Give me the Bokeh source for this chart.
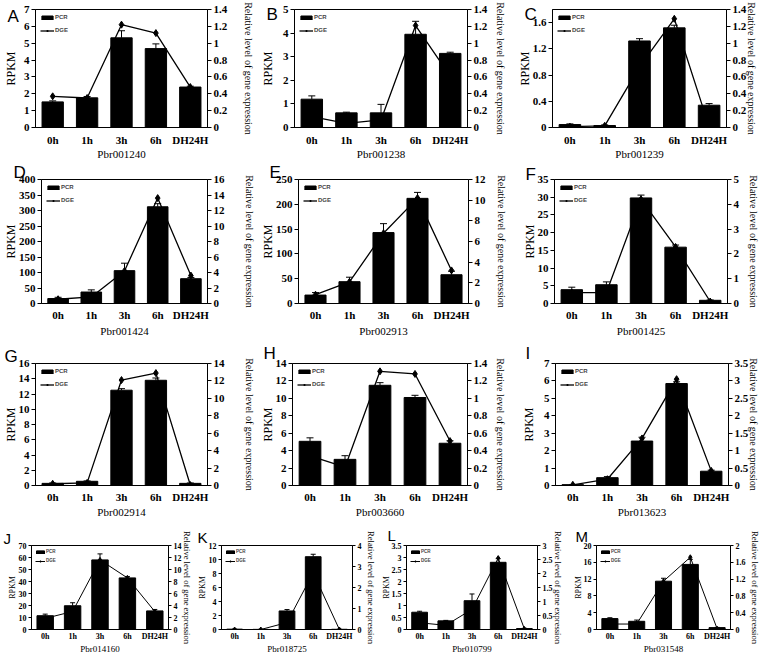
import math
from bokeh.plotting import figure
from bokeh.models import (FactorRange, Range1d, LinearAxis, FixedTicker, CustomJSTickFormatter,
                          ColumnDataSource, Whisker, TeeHead, Legend, LegendItem)
from bokeh.layouts import row, column
from bokeh.embed import file_html
from bokeh.resources import INLINE

# ---------------- data ----------------
times = ["0h", "1h", "3h", "6h", "DH24H"]

a_pcr = [1.52, 1.76, 5.32, 4.68, 2.40]
a_err = [0.06, 0.08, 0.42, 0.28, 0.05]
a_dge = [0.37, 0.35, 1.22, 1.12, 0.48]

b_pcr = [1.20, 0.62, 0.62, 3.95, 3.14]
b_err = [0.14, 0.03, 0.36, 0.55, 0.05]
b_dge = [0.13, 0.05, 0.09, 1.21, 0.61]

c_pcr = [0.045, 0.03, 1.32, 1.52, 0.34]
c_err = [0.01, 0.01, 0.035, 0.04, 0.025]
c_dge = [0.01, 0.02, 0.72, 1.29, 0.01]

d_pcr = [16, 37, 106, 312, 80]
d_err = [4, 7, 24, 10, 4]
d_dge = [0.55, 0.85, 4.2, 13.6, 3.6]

e_pcr = [17, 44, 143, 212, 58]
e_err = [5, 9, 18, 12, 7]
e_dge = [0.85, 2.1, 6.8, 10.2, 3.2]

f_pcr = [3.9, 5.3, 29.8, 15.9, 0.9]
f_err = [0.7, 0.8, 0.8, 0.6, 0.1]
f_dge = [0.44, 0.44, 4.2, 2.28, 0.08]

g_pcr = [0.28, 0.55, 12.5, 13.8, 0.28]
g_err = [0.05, 0.05, 0.2, 0.3, 0.05]
g_dge = [0.2, 0.3, 12.1, 12.9, 0.05]

h_pcr = [5.07, 3.0, 11.5, 10.1, 4.85]
h_err = [0.4, 0.42, 0.3, 0.25, 0.28]
h_dge = [0.34, 0.21, 1.31, 1.28, 0.51]

i_pcr = [0.05, 0.45, 2.55, 5.85, 0.82]
i_err = [0.01, 0.06, 0.22, 0.1, 0.06]
i_dge = [0.02, 0.18, 1.35, 3.05, 0.42]

j_pcr = [11.5, 19.8, 58, 43, 15.5]
j_err = [1.3, 2.5, 5, 1.2, 1.2]
j_dge = [1.85, 3.0, 11.6, 8.6, 3.0]

k_pcr = [0.05, 0.02, 2.65, 10.4, 0.03]
k_err = [0.02, 0.01, 0.2, 0.35, 0.01]
k_dge = [0.0, 0.0, 0.33, 2.7, 0.0]

l_pcr = [0.72, 0.36, 1.2, 2.8, 0.04]
l_err = [0.04, 0.02, 0.28, 0.15, 0.01]
l_dge = [0.24, 0.15, 0.72, 2.55, 0.02]

m_pcr = [2.6, 1.95, 11.5, 15.5, 0.45]
m_err = [0.2, 0.3, 0.7, 1.2, 0.05]
m_dge = [0.13, 0.13, 1.15, 1.72, 0.02]

genes = ["Pbr001240", "Pbr001238", "Pbr001239", "Pbr001424", "Pbr002913", "Pbr001425",
         "Pbr002914", "Pbr003660", "Pbr013623", "Pbr014160", "Pbr018725", "Pbr010799", "Pbr031548"]
letters = ["A", "B", "C", "D", "E", "F", "G", "H", "I", "J", "K", "L", "M"]
# left (RPKM) axis max/step and right (relative level) axis max/step
left_max = [7, 5, 1.8, 400, 250, 35, 16, 14, 7, 70, 12, 3.5, 20]
left_step = [1, 1, 0.4, 50, 50, 5, 2, 2, 1, 10, 2, 0.5, 4]
right_max = [1.4, 1.4, 1.4, 16, 12, 5, 14, 1.4, 3.5, 14, 4, 3, 2]
right_step = [0.2, 0.2, 0.2, 2, 2, 1, 2, 0.2, 0.5, 2, 1, 0.5, 0.4]
pcr_all = [a_pcr, b_pcr, c_pcr, d_pcr, e_pcr, f_pcr, g_pcr, h_pcr, i_pcr, j_pcr, k_pcr, l_pcr, m_pcr]
err_all = [a_err, b_err, c_err, d_err, e_err, f_err, g_err, h_err, i_err, j_err, k_err, l_err, m_err]
dge_all = [a_dge, b_dge, c_dge, d_dge, e_dge, f_dge, g_dge, h_dge, i_dge, j_dge, k_dge, l_dge, m_dge]

# ---------------- layout (reference pixel coordinates, scaled to fit the page) ----------------
SX = 762 / 778
SY = 656 / 672
def sx(v): return int(round(v * SX))
def sy(v): return int(round(v * SY))

XB = [0, 262, 520, 778]
YB = [0, 166, 348, 535, 672]
X4 = [0, 198, 386, 578, 778]
frames = [(32, 7, 212, 133), (296, 7, 479, 137), (564, 9, 741, 137),
          (32, 182, 212, 310), (297, 182, 480, 312), (566, 182, 742, 314),
          (35, 368, 212, 497), (297, 370, 479, 502), (567, 370, 743, 502),
          (32, 551, 174, 646), (223, 551, 360, 647), (412, 552, 548, 647), (609, 551, 752, 647)]
letter_pos = [(3, 7), (267, 5), (535, 7), (3, 168), (267, 168), (536, 170), (3, 353), (267, 352),
              (536, 352), (3, 538), (198, 537), (393, 536), (587, 536)]
rpkm_x = [5, 268, 538, 3, 267, 538, 13, 270, 538, 12, 203, 393, 593]
rtitle_x = [247, 505, 760, 247, 505, 762, 247, 505, 762, 185, 372, 562, 770]
# x tick-label standoff and gene-name standoff per row
xt_std = [6, 5, 5, 2]
xg_std = [-1, 1, 0, 0]

SERIF = "Liberation Serif"
SANS = "Liberation Sans"
fmt = CustomJSTickFormatter(code="return String(Math.round(tick*1000)/1000);")


def make_ticks(mx, step):
    n = int(math.floor(mx / step + 1e-9))
    return [round(i * step, 6) for i in range(n + 1)]


def lab_w(s, fs):
    return sum(0.25 * fs if c == "." else 0.5 * fs for c in s)


def style_axis(ax, tick_fs, lab_fs, tick_out, std):
    ax.major_label_text_font = SERIF
    ax.major_label_text_font_style = "bold"
    ax.major_label_text_font_size = f"{tick_fs}px"
    ax.major_label_text_color = "black"
    ax.axis_label_text_font = SERIF
    ax.axis_label_text_font_style = "normal"
    ax.axis_label_text_font_size = f"{lab_fs}px"
    ax.axis_label_text_color = "black"
    ax.major_tick_out = tick_out
    ax.major_tick_in = 0
    ax.minor_tick_out = 0
    ax.minor_tick_in = 0
    ax.minor_tick_line_color = None
    ax.major_label_standoff = std
    ax.axis_line_color = "black"
    ax.major_tick_line_color = "black"


def panel(i):
    small = i >= 9
    if small:
        rr, c = 3, i - 9
        box = (X4[c], YB[3], X4[c + 1], YB[4])
    else:
        rr, c = divmod(i, 3)
        box = (XB[c], YB[rr], XB[c + 1], YB[rr + 1])
    bx0, by0, bx1, by1 = box
    fl, ft, fr, fb = frames[i]
    W = sx(bx1) - sx(bx0)
    H = sy(by1) - sy(by0)
    bl = sx(fl) - sx(bx0)
    br = sx(bx1) - sx(fr)
    bt = sy(ft) - sy(by0)
    bb = sy(by1) - sy(fb)

    ytf = 8 if small else 11
    xtf = 8 if small else 11
    rp_fs = 8 if small else 12
    rt_fs = 8.5 if small else 10
    gt_fs = 9 if small else 11
    tout = 3 if small else 4
    lfs = 15 if small else 17

    p = figure(width=W, height=H, x_range=FactorRange(factors=times),
               y_range=Range1d(0, left_max[i]), output_backend="svg", toolbar_location=None,
               min_border_left=bl, min_border_right=br, min_border_top=bt, min_border_bottom=bb)
    p.grid.visible = False
    p.outline_line_color = "black"
    p.outline_line_width = 1
    p.background_fill_color = "white"
    p.border_fill_color = "white"

    p.extra_y_ranges = {"r": Range1d(0, right_max[i])}
    rax = LinearAxis(y_range_name="r", axis_label="Relative level of gene expression")
    p.add_layout(rax, "right")

    lt = make_ticks(left_max[i], left_step[i])
    rt = make_ticks(right_max[i], right_step[i])

    # left axis (RPKM)
    lax = p.yaxis[0]
    lax.ticker = FixedTicker(ticks=lt)
    lax.formatter = fmt
    lax.axis_label = "RPKM"
    lw = max(lab_w(f"{t:g}", ytf) for t in lt)
    lstd = sx(fl) - tout - 2 - lw - (sx(rpkm_x[i]) - 2 + rp_fs * 1.15)
    style_axis(lax, ytf, rp_fs, tout, 2)
    lax.axis_label_standoff = int(round(max(lstd, -2)))

    # right axis (relative level)
    rax.ticker = FixedTicker(ticks=rt)
    rax.formatter = fmt
    rw = max(lab_w(f"{t:g}", ytf) for t in rt)
    rstd = sx(rtitle_x[i]) - 1 - (sx(fr) + tout + 2 + rw)
    style_axis(rax, ytf, rt_fs, tout, 2)
    rax.axis_label_standoff = int(round(max(rstd, -4)))

    # x axis with the gene name below
    xax = p.xaxis[0]
    style_axis(xax, xtf, gt_fs, 0, xt_std[rr])
    xax.axis_label = genes[i]
    xax.axis_label_standoff = xg_std[rr]
    xax.major_tick_line_color = None

    src = ColumnDataSource(dict(x=times, pcr=pcr_all[i],
                                up=[a + b for a, b in zip(pcr_all[i], err_all[i])],
                                dge=dge_all[i]))
    bars = p.vbar(x="x", top="pcr", width=0.6 if small else 0.62, source=src,
                  fill_color="black", line_color="black")
    p.add_layout(Whisker(base="x", lower="pcr", upper="up", source=src, dimension="height",
                         line_color="black", line_width=1,
                         upper_head=TeeHead(size=5 if small else 7, line_color="black", line_width=1),
                         lower_head=None))
    ln = p.line(x="x", y="dge", source=src, y_range_name="r", line_color="black",
                line_width=1.0 if small else 1.3)
    mk = p.scatter(x="x", y="dge", source=src, y_range_name="r", marker="diamond",
                   size=5 if small else 7, fill_color="black", line_color="black")

    leg = Legend(items=[LegendItem(label="PCR", renderers=[bars]),
                        LegendItem(label="DGE", renderers=[ln, mk])],
                 location="top_left")
    leg.label_text_font = SANS
    leg.label_text_font_style = "bold"
    leg.label_text_font_size = "4.5px" if small else "6px"
    leg.glyph_width = 10 if small else 14
    leg.glyph_height = 4 if small else 5
    leg.label_height = 4 if small else 5
    leg.label_standoff = 1
    leg.spacing = 4 if small else 7
    leg.padding = 0
    leg.margin = 4 if small else 5
    leg.border_line_alpha = 0
    leg.background_fill_alpha = 0
    p.add_layout(leg)

    # panel letter as the figure title, pulled down next to the frame by a negative standoff
    lx, ly = letter_pos[i]
    text_bottom = sy(ly) - 0.19 * lfs + 1.12 * lfs
    d = text_bottom - sy(ft)
    p.title.text = letters[i]
    p.title.align = "left"
    p.title.offset = sx(lx) - sx(fl)
    p.title.standoff = int(round(-2 * d))
    p.title.text_font = SANS
    p.title.text_font_style = "normal"
    p.title.text_font_size = f"{lfs}px"
    p.title.text_color = "black"
    return p


plots = [panel(i) for i in range(13)]
layout = column(row(*plots[0:3]), row(*plots[3:6]), row(*plots[6:9]), row(*plots[9:13]))

open("out.html", "w").write(file_html(layout, INLINE))
